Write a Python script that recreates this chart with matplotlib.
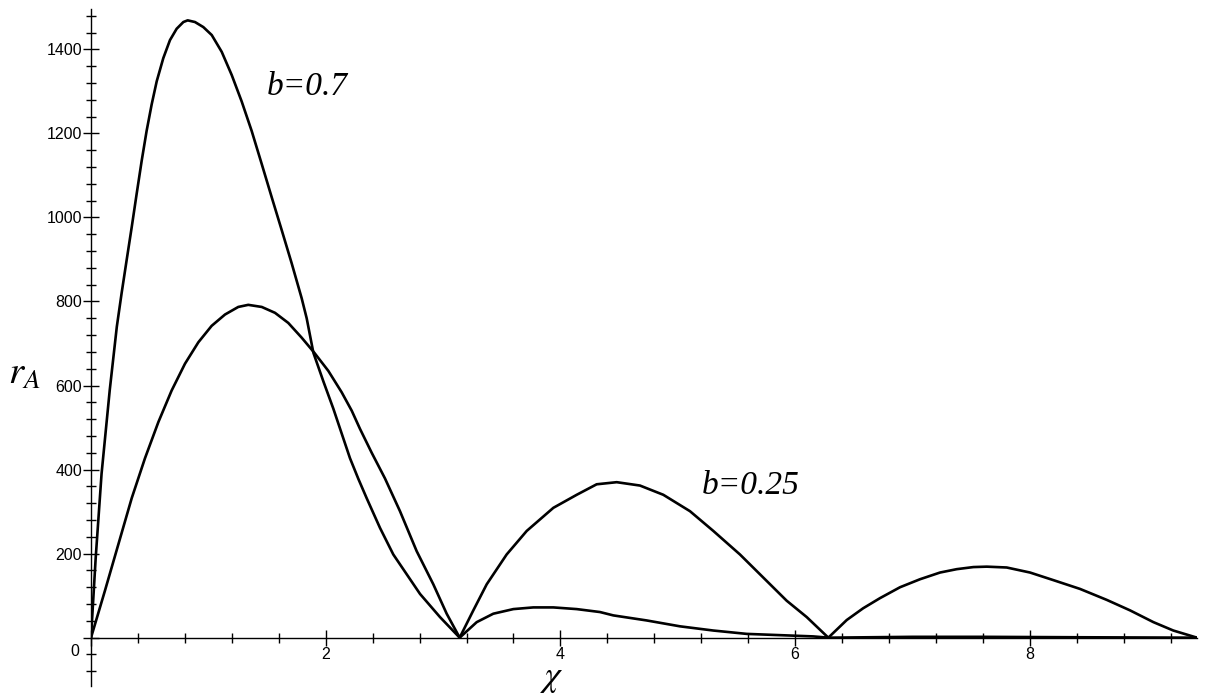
import numpy as np
import matplotlib.pyplot as plt
from matplotlib.ticker import MultipleLocator, FuncFormatter

# r_A against chi, b = 0.7
chi_07 = [0.0, 0.04, 0.09, 0.16, 0.22, 0.261, 0.304, 0.347, 0.389, 0.432, 0.474,
          0.517, 0.56, 0.616, 0.673, 0.73, 0.787, 0.824, 0.886, 0.957, 1.029, 1.114,
          1.199, 1.284, 1.369, 1.455, 1.54, 1.625, 1.71, 1.795, 1.838, 1.895, 1.98,
          2.065, 2.136, 2.207, 2.278, 2.349, 2.463, 2.576, 2.69, 2.804, 2.974, 3.1416,
          3.287, 3.428, 3.599, 3.769, 3.94, 4.139, 4.337, 4.451, 4.735, 5.019, 5.303,
          5.588, 5.871, 6.155, 6.2832, 7.0, 7.6, 8.4, 9.4248]
r_07 = [0, 190, 390, 590, 740, 820, 899, 977, 1056, 1135, 1206,
        1269, 1324, 1379, 1422, 1449, 1465, 1469, 1465, 1453, 1434, 1394,
        1339, 1276, 1206, 1127, 1048, 970, 891, 808, 760, 678, 610,
        545, 486, 427, 378, 332, 261, 198, 151, 104, 49, 0,
        37, 57, 68, 72, 72, 68, 61, 53, 41, 27, 17,
        9, 6, 3, 0, 2, 2, 1, 0]

# r_A against chi, b = 0.25
chi_025 = [0.0, 0.119, 0.233, 0.347, 0.46, 0.574, 0.687, 0.801, 0.915, 1.028, 1.142,
           1.255, 1.34, 1.455, 1.568, 1.681, 1.795, 1.903, 2.022, 2.136, 2.222, 2.292,
           2.392, 2.505, 2.633, 2.775, 2.917, 3.031, 3.1416, 3.258, 3.372, 3.542, 3.713,
           3.94, 4.139, 4.309, 4.48, 4.678, 4.877, 5.104, 5.303, 5.53, 5.729, 5.928,
           6.099, 6.2832, 6.44, 6.58, 6.723, 6.894, 7.064, 7.235, 7.377, 7.519, 7.633,
           7.803, 8.002, 8.2, 8.428, 8.655, 8.854, 9.053, 9.223, 9.4248]
r_025 = [0, 112, 222, 332, 427, 513, 588, 652, 703, 742, 769,
         787, 792, 787, 773, 749, 714, 678, 635, 584, 540, 497,
         440, 379, 301, 206, 127, 57, 0, 65, 127, 198, 254,
         309, 340, 365, 370, 362, 340, 301, 254, 198, 143, 88,
         49, 0, 42, 70, 94, 120, 139, 155, 163, 168, 169,
         167, 155, 137, 116, 90, 65, 37, 17, 0]

plt.rcParams['mathtext.fontset'] = 'stix'

fig = plt.figure(figsize=(12.12, 6.95), dpi=100)
ax = fig.add_axes([91 / 1212, 9 / 695, (1197 - 91) / 1212, (686 - 9) / 695])

ax.plot(chi_07, r_07, color='black', lw=1.9)
ax.plot(chi_025, r_025, color='black', lw=1.9)

ax.set_xlim(0, 3 * np.pi)
ax.set_ylim(-115, 1496)

# axes crossing at the origin
ax.spines['top'].set_visible(False)
ax.spines['right'].set_visible(False)
ax.spines['bottom'].set_position(('data', 0))
ax.spines['left'].set_position(('data', 0))
for s in ('left', 'bottom'):
    ax.spines[s].set_linewidth(1.0)

ax.xaxis.set_major_locator(MultipleLocator(2))
ax.xaxis.set_minor_locator(MultipleLocator(0.4))
ax.yaxis.set_major_locator(MultipleLocator(200))
ax.yaxis.set_minor_locator(MultipleLocator(40))

ax.xaxis.set_major_formatter(FuncFormatter(lambda v, p: '' if v == 0 else f'{v:g}'))
ax.yaxis.set_major_formatter(FuncFormatter(lambda v, p: '' if v == 0 else f'{v:g}'))

ax.tick_params(which='major', direction='inout', length=11, width=1.0,
               labelsize=11.5, pad=1)
ax.tick_params(which='minor', direction='inout', length=6.5, width=1.0)
for lab in ax.get_xticklabels() + ax.get_yticklabels():
    lab.set_family('Liberation Sans')

ax.text(-0.1, -15, '0', ha='right', va='top', fontsize=11.5, family='Liberation Sans')

# curve labels
ax.text(1.84, 1310, 'b=0.7', fontsize=24, family='Liberation Serif', style='italic',
        ha='center', va='center')
ax.text(5.62, 362, 'b=0.25', fontsize=24, family='Liberation Serif', style='italic',
        ha='center', va='center')

# axis names
ax.text(-0.57, 630, r'$r_A$', fontsize=28, ha='center', va='center', clip_on=False)
ax.text(3.93, -97, r'$\chi$', fontsize=26, ha='center', va='center', clip_on=False)

fig.savefig('out.png', dpi=100)
